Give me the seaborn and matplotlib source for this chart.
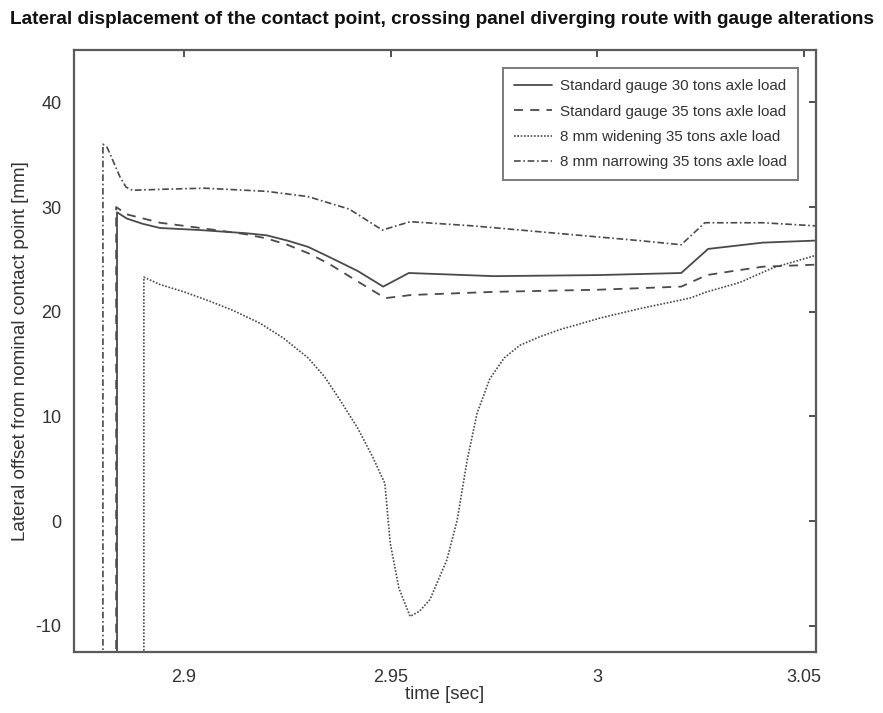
import matplotlib
matplotlib.use("Agg")
import matplotlib.pyplot as plt
import seaborn as sns
import pandas as pd

# Time axis [s] and lateral contact point offset [mm] for each simulation case.
# The first sample of every run sits far below the plotted range (entry transient).
t_std30 = [2.8838, 2.8838, 2.8862, 2.8900, 2.8942, 2.9040, 2.9150, 2.9200, 2.9250,
           2.9300, 2.9353, 2.9420, 2.9482, 2.9544, 2.9750, 3.0000, 3.0203, 3.0268,
           3.0400, 3.0530]
y_std30 = [-40.0, 29.5, 28.9, 28.4, 28.0, 27.8, 27.5, 27.3, 26.8,
           26.2, 25.2, 23.9, 22.4, 23.7, 23.4, 23.5, 23.7, 26.0,
           26.6, 26.8]

t_std35 = [2.8836, 2.8836, 2.8862, 2.8942, 2.9040, 2.9150, 2.9200, 2.9250, 2.9300,
           2.9350, 2.9420, 2.9487, 2.9550, 2.9750, 3.0000, 3.0203, 3.0265, 3.0330,
           3.0400, 3.0530]
y_std35 = [-40.0, 30.0, 29.3, 28.5, 28.0, 27.4, 27.0, 26.4, 25.6,
           24.6, 22.9, 21.3, 21.6, 21.9, 22.1, 22.4, 23.5, 23.9,
           24.3, 24.5]

t_wide35 = [2.8903, 2.8903, 2.8942, 2.9000, 2.9063, 2.9120, 2.9184, 2.9240, 2.9300,
            2.9340, 2.9377, 2.9420, 2.9457, 2.9486, 2.9499, 2.9520, 2.9547, 2.9570,
            2.9595, 2.9636, 2.9661, 2.9685, 2.9709, 2.9740, 2.9775, 2.9813, 2.9860,
            2.9910, 3.0007, 3.0103, 3.0224, 3.0265, 3.0345, 3.0425, 3.0530]
y_wide35 = [-40.0, 23.3, 22.6, 21.9, 21.0, 20.1, 18.9, 17.5, 15.6,
            13.8, 11.6, 8.9, 6.1, 3.6, -2.1, -6.4, -9.1, -8.6,
            -7.5, -3.7, 0.1, 5.8, 10.3, 13.6, 15.6, 16.8, 17.6,
            18.3, 19.4, 20.3, 21.3, 21.9, 22.8, 24.2, 25.4]

t_narrow35 = [2.8804, 2.8804, 2.8814, 2.8822, 2.8845, 2.8860, 2.8875, 2.8950, 2.9050,
              2.9200, 2.9300, 2.9400, 2.9480, 2.9547, 2.9700, 2.9900, 3.0100, 3.0203,
              3.0260, 3.0400, 3.0530]
y_narrow35 = [-40.0, 36.0, 35.7, 35.0, 32.9, 31.9, 31.6, 31.7, 31.8,
              31.5, 31.0, 29.8, 27.8, 28.6, 28.2, 27.5, 26.8, 26.4,
              28.5, 28.5, 28.2]

labels = ["Standard gauge 30 tons axle load",
          "Standard gauge 35 tons axle load",
          "8 mm widening 35 tons axle load",
          "8 mm narrowing 35 tons axle load"]

x_ticks = [2.9, 2.95, 3.0, 3.05]
x_ticklabels = ["2.9", "2.95", "3", "3.05"]
y_ticks = [-10, 0, 10, 20, 30, 40]

frames = []
for lab, t, y in zip(labels,
                     [t_std30, t_std35, t_wide35, t_narrow35],
                     [y_std30, y_std35, y_wide35, y_narrow35]):
    frames.append(pd.DataFrame({"time": t, "offset": y, "case": lab}))
df = pd.concat(frames, ignore_index=True)

sns.set_style("white")
plt.rcParams["font.family"] = ["Liberation Sans", "DejaVu Sans"]
plt.rcParams["axes.unicode_minus"] = False

fig = plt.figure(figsize=(8.83, 7.13), dpi=100)
ax = fig.add_axes([74 / 883, 61 / 713, 742 / 883, 602 / 713])

line_color = "#4a4a4a"
styles = {
    labels[0]: dict(linestyle="-", linewidth=1.3),
    labels[1]: dict(linestyle=(0, (5, 4)), linewidth=1.3),
    labels[2]: dict(linestyle=(0, (1, 1)), linewidth=1.2),
    labels[3]: dict(linestyle=(0, (4, 1.6, 1, 1.6)), linewidth=1.2),
}

for lab in labels:
    sub = df[df["case"] == lab]
    sns.lineplot(data=sub, x="time", y="offset", ax=ax, sort=False,
                 estimator=None, color=line_color, label=lab, **styles[lab])

ax.set_xlim(2.8734, 3.0529)
ax.set_ylim(-12.5, 45)
ax.set_xticks(x_ticks)
ax.set_xticklabels(x_ticklabels)
ax.set_yticks(y_ticks)

for sp in ax.spines.values():
    sp.set_color("#5a5a5a")
    sp.set_linewidth(1.6)

ax.tick_params(axis="both", which="both", direction="in", length=5, width=1.2,
               color="#333333", top=True, right=True, labelsize=13,
               labelcolor="#333333")
ax.tick_params(axis="x", pad=12)
ax.tick_params(axis="y", pad=9)

ax.set_xlabel("time [sec]", fontsize=13.3, color="#333333", labelpad=0)
ax.set_ylabel("Lateral offset from nominal contact point [mm]", fontsize=13.5,
              color="#333333", labelpad=5)

fig.suptitle("Lateral displacement of the contact point, crossing panel diverging route with gauge alterations",
             x=0.5, y=0.984, fontsize=13.7, fontweight="bold", color="#111111")

leg = ax.legend(loc="upper right", bbox_to_anchor=(0.9757, 0.970),
                borderaxespad=0, prop={"size": 10.9}, frameon=True,
                fancybox=False, handlelength=2.5, handletextpad=0.5,
                borderpad=0.75, labelspacing=0.74)
leg.get_frame().set_edgecolor("#5a5a5a")
leg.get_frame().set_linewidth(1.4)
for txt in leg.get_texts():
    txt.set_color("#333333")

fig.savefig("out.png", dpi=100)
